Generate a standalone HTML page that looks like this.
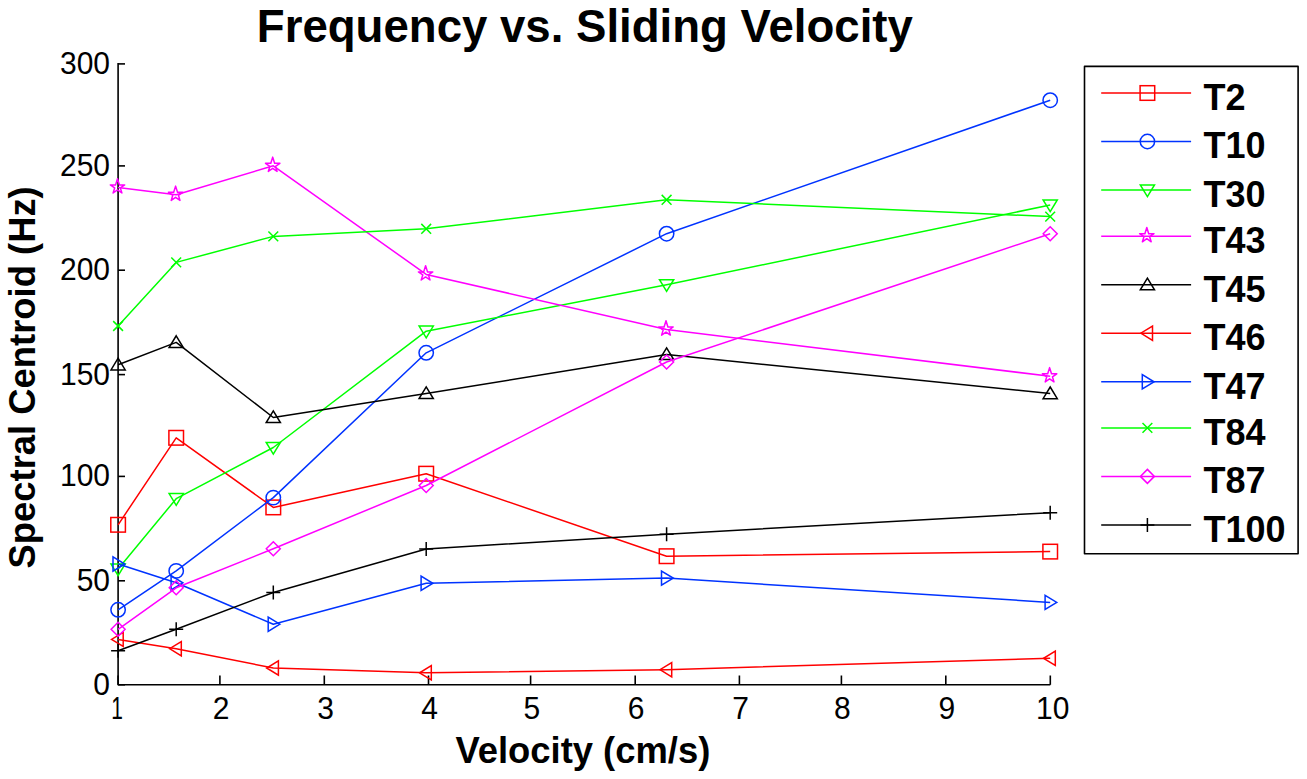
<!DOCTYPE html>
<html><head><meta charset="utf-8"><title>Frequency vs. Sliding Velocity</title>
<style>html,body{margin:0;padding:0;background:#fff;width:1307px;height:779px;overflow:hidden}svg{display:block}text{font-family:"Liberation Sans",sans-serif}</style>
</head><body><div>
<svg width="1307" height="779" viewBox="0 0 1307 779">
<rect width="1307" height="779" fill="#fff"/>
<path d="M118.1 63.1V684.8H1050.3" stroke="#000" stroke-width="1.6" fill="none" stroke-linejoin="round"/>
<path d="M118.1 684.8V675.5" stroke="#000" stroke-width="1.6" fill="none"/>
<path d="M219.9 684.8V675.5" stroke="#000" stroke-width="1.6" fill="none"/>
<path d="M324.3 684.8V675.5" stroke="#000" stroke-width="1.6" fill="none"/>
<path d="M428.5 684.8V675.5" stroke="#000" stroke-width="1.6" fill="none"/>
<path d="M530.6 684.8V675.5" stroke="#000" stroke-width="1.6" fill="none"/>
<path d="M635.2 684.8V675.5" stroke="#000" stroke-width="1.6" fill="none"/>
<path d="M739.4 684.8V675.5" stroke="#000" stroke-width="1.6" fill="none"/>
<path d="M841.4 684.8V675.5" stroke="#000" stroke-width="1.6" fill="none"/>
<path d="M945.8 684.8V675.5" stroke="#000" stroke-width="1.6" fill="none"/>
<path d="M1050.3 684.8V675.5" stroke="#000" stroke-width="1.6" fill="none"/>
<path d="M118.1 684.8H125" stroke="#000" stroke-width="1.6" fill="none"/>
<path d="M118.1 580.8H125" stroke="#000" stroke-width="1.6" fill="none"/>
<path d="M118.1 476.4H125" stroke="#000" stroke-width="1.6" fill="none"/>
<path d="M118.1 374.6H125" stroke="#000" stroke-width="1.6" fill="none"/>
<path d="M118.1 270.2H125" stroke="#000" stroke-width="1.6" fill="none"/>
<path d="M118.1 165.9H125" stroke="#000" stroke-width="1.6" fill="none"/>
<path d="M118.1 63.9H125" stroke="#000" stroke-width="1.6" fill="none"/>
<text transform="translate(117.15 719) scale(0.7 1.05)" text-anchor="middle" font-family="Liberation Sans, sans-serif" font-size="30" fill="#000">1</text>
<text transform="translate(221.1 719) scale(1 1.05)" text-anchor="middle" font-family="Liberation Sans, sans-serif" font-size="30" fill="#000">2</text>
<text transform="translate(325.59 719) scale(1 1.05)" text-anchor="middle" font-family="Liberation Sans, sans-serif" font-size="30" fill="#000">3</text>
<text transform="translate(429.7 719) scale(1 1.05)" text-anchor="middle" font-family="Liberation Sans, sans-serif" font-size="30" fill="#000">4</text>
<text transform="translate(531.73 719) scale(1 1.05)" text-anchor="middle" font-family="Liberation Sans, sans-serif" font-size="30" fill="#000">5</text>
<text transform="translate(636.2 719) scale(1 1.05)" text-anchor="middle" font-family="Liberation Sans, sans-serif" font-size="30" fill="#000">6</text>
<text transform="translate(740.69 719) scale(1 1.05)" text-anchor="middle" font-family="Liberation Sans, sans-serif" font-size="30" fill="#000">7</text>
<text transform="translate(842.4 719) scale(1 1.05)" text-anchor="middle" font-family="Liberation Sans, sans-serif" font-size="30" fill="#000">8</text>
<text transform="translate(946.91 719) scale(1 1.05)" text-anchor="middle" font-family="Liberation Sans, sans-serif" font-size="30" fill="#000">9</text>
<text transform="translate(1052.8 719) scale(1 1.05)" text-anchor="middle" font-family="Liberation Sans, sans-serif" font-size="30" fill="#000">10</text>
<text transform="translate(110 694.8) scale(1 1.05)" text-anchor="end" font-family="Liberation Sans, sans-serif" font-size="30" fill="#000">0</text>
<text transform="translate(110 590.8) scale(1 1.05)" text-anchor="end" font-family="Liberation Sans, sans-serif" font-size="30" fill="#000">50</text>
<text transform="translate(110 486.4) scale(1 1.05)" text-anchor="end" font-family="Liberation Sans, sans-serif" font-size="30" fill="#000">100</text>
<text transform="translate(110 384.6) scale(1 1.05)" text-anchor="end" font-family="Liberation Sans, sans-serif" font-size="30" fill="#000">150</text>
<text transform="translate(110 280.2) scale(1 1.05)" text-anchor="end" font-family="Liberation Sans, sans-serif" font-size="30" fill="#000">200</text>
<text transform="translate(110 175.9) scale(1 1.05)" text-anchor="end" font-family="Liberation Sans, sans-serif" font-size="30" fill="#000">250</text>
<text transform="translate(110 73.9) scale(1 1.05)" text-anchor="end" font-family="Liberation Sans, sans-serif" font-size="30" fill="#000">300</text>
<path d="M118.1 524.8 L176.2 437.8 L273.3 507.4 L426.2 473.7 L666.6 556.2 L1050.2 551.6" fill="none" stroke="#ff0000" stroke-width="1.5" stroke-linejoin="round"/>
<rect x="110.8" y="517.5" width="14.6" height="14.6" fill="none" stroke="#ff0000" stroke-width="1.5"/>
<rect x="168.9" y="430.5" width="14.6" height="14.6" fill="none" stroke="#ff0000" stroke-width="1.5"/>
<rect x="266" y="500.1" width="14.6" height="14.6" fill="none" stroke="#ff0000" stroke-width="1.5"/>
<rect x="418.9" y="466.4" width="14.6" height="14.6" fill="none" stroke="#ff0000" stroke-width="1.5"/>
<rect x="659.3" y="548.9" width="14.6" height="14.6" fill="none" stroke="#ff0000" stroke-width="1.5"/>
<rect x="1042.9" y="544.3" width="14.6" height="14.6" fill="none" stroke="#ff0000" stroke-width="1.5"/>
<path d="M118.1 609.8 L176.2 570.9 L273.3 497.6 L426.2 352.8 L666.6 233.7 L1050.2 100.2" fill="none" stroke="#0033ff" stroke-width="1.5" stroke-linejoin="round"/>
<circle cx="118.1" cy="609.8" r="7.2" fill="none" stroke="#0033ff" stroke-width="1.5"/>
<circle cx="176.2" cy="570.9" r="7.2" fill="none" stroke="#0033ff" stroke-width="1.5"/>
<circle cx="273.3" cy="497.6" r="7.2" fill="none" stroke="#0033ff" stroke-width="1.5"/>
<circle cx="426.2" cy="352.8" r="7.2" fill="none" stroke="#0033ff" stroke-width="1.5"/>
<circle cx="666.6" cy="233.7" r="7.2" fill="none" stroke="#0033ff" stroke-width="1.5"/>
<circle cx="1050.2" cy="100.2" r="7.2" fill="none" stroke="#0033ff" stroke-width="1.5"/>
<path d="M118.1 569 L176.2 498.7 L273.3 447.5 L426.2 331.2 L666.6 284.8 L1050.2 205" fill="none" stroke="#00ff00" stroke-width="1.5" stroke-linejoin="round"/>
<polygon points="118.1,575.6 125.2,563.9 111,563.9" fill="none" stroke="#00ff00" stroke-width="1.5"/>
<polygon points="176.2,505.3 183.3,493.6 169.1,493.6" fill="none" stroke="#00ff00" stroke-width="1.5"/>
<polygon points="273.3,454.1 280.4,442.4 266.2,442.4" fill="none" stroke="#00ff00" stroke-width="1.5"/>
<polygon points="426.2,337.8 433.3,326.1 419.1,326.1" fill="none" stroke="#00ff00" stroke-width="1.5"/>
<polygon points="666.6,291.4 673.7,279.7 659.5,279.7" fill="none" stroke="#00ff00" stroke-width="1.5"/>
<polygon points="1050.2,211.6 1057.3,199.9 1043.1,199.9" fill="none" stroke="#00ff00" stroke-width="1.5"/>
<path d="M118.1 187.4 L176.2 194.8 L273.3 165.8 L426.2 274.4 L666.6 329.5 L1050.2 376.3" fill="none" stroke="#ff00ff" stroke-width="1.5" stroke-linejoin="round"/>
<polygon points="117.5,178.7 119.41,184.9 124.7,184.9 120.34,187.94 121.9,193 117.5,189.93 113.1,193 114.66,187.94 110.3,184.9 115.59,184.9" fill="none" stroke="#ff00ff" stroke-width="1.5" stroke-linejoin="round"/>
<polygon points="175.6,186.1 177.51,192.3 182.8,192.3 178.44,195.34 180,200.4 175.6,197.33 171.2,200.4 172.76,195.34 168.4,192.3 173.69,192.3" fill="none" stroke="#ff00ff" stroke-width="1.5" stroke-linejoin="round"/>
<polygon points="272.7,157.1 274.61,163.3 279.9,163.3 275.54,166.34 277.1,171.4 272.7,168.33 268.3,171.4 269.86,166.34 265.5,163.3 270.79,163.3" fill="none" stroke="#ff00ff" stroke-width="1.5" stroke-linejoin="round"/>
<polygon points="425.6,265.7 427.51,271.9 432.8,271.9 428.44,274.94 430,280 425.6,276.93 421.2,280 422.76,274.94 418.4,271.9 423.69,271.9" fill="none" stroke="#ff00ff" stroke-width="1.5" stroke-linejoin="round"/>
<polygon points="666,320.8 667.91,327 673.2,327 668.84,330.04 670.4,335.1 666,332.03 661.6,335.1 663.16,330.04 658.8,327 664.09,327" fill="none" stroke="#ff00ff" stroke-width="1.5" stroke-linejoin="round"/>
<polygon points="1049.6,367.6 1051.51,373.8 1056.8,373.8 1052.44,376.84 1054,381.9 1049.6,378.83 1045.2,381.9 1046.76,376.84 1042.4,373.8 1047.69,373.8" fill="none" stroke="#ff00ff" stroke-width="1.5" stroke-linejoin="round"/>
<path d="M118.1 364.8 L176.2 342.4 L273.3 417.5 L426.2 393.5 L666.6 354.5 L1050.2 393.6" fill="none" stroke="#000000" stroke-width="1.5" stroke-linejoin="round"/>
<polygon points="118.1,358.2 125.2,369.9 111,369.9" fill="none" stroke="#000000" stroke-width="1.5"/>
<polygon points="176.2,335.8 183.3,347.5 169.1,347.5" fill="none" stroke="#000000" stroke-width="1.5"/>
<polygon points="273.3,410.9 280.4,422.6 266.2,422.6" fill="none" stroke="#000000" stroke-width="1.5"/>
<polygon points="426.2,386.9 433.3,398.6 419.1,398.6" fill="none" stroke="#000000" stroke-width="1.5"/>
<polygon points="666.6,347.9 673.7,359.6 659.5,359.6" fill="none" stroke="#000000" stroke-width="1.5"/>
<polygon points="1050.2,387 1057.3,398.7 1043.1,398.7" fill="none" stroke="#000000" stroke-width="1.5"/>
<path d="M118.1 639.4 L176.2 648.7 L273.3 668 L426.2 672.8 L666.6 669.7 L1050.2 658.3" fill="none" stroke="#ff0000" stroke-width="1.5" stroke-linejoin="round"/>
<polygon points="111.5,639.4 123.2,646.5 123.2,632.3" fill="none" stroke="#ff0000" stroke-width="1.5"/>
<polygon points="169.6,648.7 181.3,655.8 181.3,641.6" fill="none" stroke="#ff0000" stroke-width="1.5"/>
<polygon points="266.7,668 278.4,675.1 278.4,660.9" fill="none" stroke="#ff0000" stroke-width="1.5"/>
<polygon points="419.6,672.8 431.3,679.9 431.3,665.7" fill="none" stroke="#ff0000" stroke-width="1.5"/>
<polygon points="660,669.7 671.7,676.8 671.7,662.6" fill="none" stroke="#ff0000" stroke-width="1.5"/>
<polygon points="1043.6,658.3 1055.3,665.4 1055.3,651.2" fill="none" stroke="#ff0000" stroke-width="1.5"/>
<path d="M118.1 564 L176.2 582.8 L273.3 624.2 L426.2 583.3 L666.6 578.1 L1050.2 602.4" fill="none" stroke="#0033ff" stroke-width="1.5" stroke-linejoin="round"/>
<polygon points="124.7,564 113,571.1 113,556.9" fill="none" stroke="#0033ff" stroke-width="1.5"/>
<polygon points="182.8,582.8 171.1,589.9 171.1,575.7" fill="none" stroke="#0033ff" stroke-width="1.5"/>
<polygon points="279.9,624.2 268.2,631.3 268.2,617.1" fill="none" stroke="#0033ff" stroke-width="1.5"/>
<polygon points="432.8,583.3 421.1,590.4 421.1,576.2" fill="none" stroke="#0033ff" stroke-width="1.5"/>
<polygon points="673.2,578.1 661.5,585.2 661.5,571" fill="none" stroke="#0033ff" stroke-width="1.5"/>
<polygon points="1056.8,602.4 1045.1,609.5 1045.1,595.3" fill="none" stroke="#0033ff" stroke-width="1.5"/>
<path d="M118.1 326 L176.2 262.4 L273.3 236.4 L426.2 228.8 L666.6 199.8 L1050.2 216.6" fill="none" stroke="#00ff00" stroke-width="1.5" stroke-linejoin="round"/>
<path d="M113.2 321.1L123 330.9M113.2 330.9L123 321.1" fill="none" stroke="#00ff00" stroke-width="1.5"/>
<path d="M171.3 257.5L181.1 267.3M171.3 267.3L181.1 257.5" fill="none" stroke="#00ff00" stroke-width="1.5"/>
<path d="M268.4 231.5L278.2 241.3M268.4 241.3L278.2 231.5" fill="none" stroke="#00ff00" stroke-width="1.5"/>
<path d="M421.3 223.9L431.1 233.7M421.3 233.7L431.1 223.9" fill="none" stroke="#00ff00" stroke-width="1.5"/>
<path d="M661.7 194.9L671.5 204.7M661.7 204.7L671.5 194.9" fill="none" stroke="#00ff00" stroke-width="1.5"/>
<path d="M1045.3 211.7L1055.1 221.5M1045.3 221.5L1055.1 211.7" fill="none" stroke="#00ff00" stroke-width="1.5"/>
<path d="M118.1 629.3 L176.2 587.8 L273.3 548.8 L426.2 485.5 L666.6 362 L1050.2 233.8" fill="none" stroke="#ff00ff" stroke-width="1.5" stroke-linejoin="round"/>
<polygon points="118.1,622.3 125.1,629.3 118.1,636.3 111.1,629.3" fill="none" stroke="#ff00ff" stroke-width="1.5"/>
<polygon points="176.2,580.8 183.2,587.8 176.2,594.8 169.2,587.8" fill="none" stroke="#ff00ff" stroke-width="1.5"/>
<polygon points="273.3,541.8 280.3,548.8 273.3,555.8 266.3,548.8" fill="none" stroke="#ff00ff" stroke-width="1.5"/>
<polygon points="426.2,478.5 433.2,485.5 426.2,492.5 419.2,485.5" fill="none" stroke="#ff00ff" stroke-width="1.5"/>
<polygon points="666.6,355 673.6,362 666.6,369 659.6,362" fill="none" stroke="#ff00ff" stroke-width="1.5"/>
<polygon points="1050.2,226.8 1057.2,233.8 1050.2,240.8 1043.2,233.8" fill="none" stroke="#ff00ff" stroke-width="1.5"/>
<path d="M118.1 650.7 L176.2 629.3 L273.3 592.5 L426.2 549 L666.6 534.2 L1050.2 512.7" fill="none" stroke="#000000" stroke-width="1.5" stroke-linejoin="round"/>
<path d="M111.1 650.7L125.1 650.7M118.1 643.7L118.1 657.7" fill="none" stroke="#000000" stroke-width="1.5"/>
<path d="M169.2 629.3L183.2 629.3M176.2 622.3L176.2 636.3" fill="none" stroke="#000000" stroke-width="1.5"/>
<path d="M266.3 592.5L280.3 592.5M273.3 585.5L273.3 599.5" fill="none" stroke="#000000" stroke-width="1.5"/>
<path d="M419.2 549L433.2 549M426.2 542L426.2 556" fill="none" stroke="#000000" stroke-width="1.5"/>
<path d="M659.6 534.2L673.6 534.2M666.6 527.2L666.6 541.2" fill="none" stroke="#000000" stroke-width="1.5"/>
<path d="M1043.2 512.7L1057.2 512.7M1050.2 505.7L1050.2 519.7" fill="none" stroke="#000000" stroke-width="1.5"/>
<rect x="1084.5" y="66.4" width="213.6" height="487.4" fill="#fff" stroke="#000" stroke-width="1.6" stroke-linejoin="round"/>
<path d="M1101.2 93H1191.1" stroke="#ff0000" stroke-width="1.5"/>
<rect x="1140.1" y="85.7" width="14.6" height="14.6" fill="none" stroke="#ff0000" stroke-width="1.5"/>
<text x="1203.5" y="109.8" font-family="Liberation Sans, sans-serif" font-weight="bold" font-size="36" fill="#000">T2</text>
<path d="M1101.2 141.5H1191.1" stroke="#0033ff" stroke-width="1.5"/>
<circle cx="1147.4" cy="141.5" r="7.2" fill="none" stroke="#0033ff" stroke-width="1.5"/>
<text x="1203.5" y="158.3" font-family="Liberation Sans, sans-serif" font-weight="bold" font-size="36" fill="#000">T10</text>
<path d="M1101.2 190H1191.1" stroke="#00ff00" stroke-width="1.5"/>
<polygon points="1147.4,196.6 1154.5,184.9 1140.3,184.9" fill="none" stroke="#00ff00" stroke-width="1.5"/>
<text x="1203.5" y="206.8" font-family="Liberation Sans, sans-serif" font-weight="bold" font-size="36" fill="#000">T30</text>
<path d="M1101.2 236.2H1191.1" stroke="#ff00ff" stroke-width="1.5"/>
<polygon points="1146.8,227.5 1148.71,233.7 1154,233.7 1149.64,236.74 1151.2,241.8 1146.8,238.73 1142.4,241.8 1143.96,236.74 1139.6,233.7 1144.89,233.7" fill="none" stroke="#ff00ff" stroke-width="1.5" stroke-linejoin="round"/>
<text x="1203.5" y="253" font-family="Liberation Sans, sans-serif" font-weight="bold" font-size="36" fill="#000">T43</text>
<path d="M1101.2 284.7H1191.1" stroke="#000000" stroke-width="1.5"/>
<polygon points="1147.4,278.1 1154.5,289.8 1140.3,289.8" fill="none" stroke="#000000" stroke-width="1.5"/>
<text x="1203.5" y="301.5" font-family="Liberation Sans, sans-serif" font-weight="bold" font-size="36" fill="#000">T45</text>
<path d="M1101.2 333.2H1191.1" stroke="#ff0000" stroke-width="1.5"/>
<polygon points="1140.8,333.2 1152.5,340.3 1152.5,326.1" fill="none" stroke="#ff0000" stroke-width="1.5"/>
<text x="1203.5" y="350" font-family="Liberation Sans, sans-serif" font-weight="bold" font-size="36" fill="#000">T46</text>
<path d="M1101.2 381.8H1191.1" stroke="#0033ff" stroke-width="1.5"/>
<polygon points="1154,381.8 1142.3,388.9 1142.3,374.7" fill="none" stroke="#0033ff" stroke-width="1.5"/>
<text x="1203.5" y="398.6" font-family="Liberation Sans, sans-serif" font-weight="bold" font-size="36" fill="#000">T47</text>
<path d="M1101.2 427.9H1191.1" stroke="#00ff00" stroke-width="1.5"/>
<path d="M1142.5 423L1152.3 432.8M1142.5 432.8L1152.3 423" fill="none" stroke="#00ff00" stroke-width="1.5"/>
<text x="1203.5" y="444.7" font-family="Liberation Sans, sans-serif" font-weight="bold" font-size="36" fill="#000">T84</text>
<path d="M1101.2 476.4H1191.1" stroke="#ff00ff" stroke-width="1.5"/>
<polygon points="1147.4,469.4 1154.4,476.4 1147.4,483.4 1140.4,476.4" fill="none" stroke="#ff00ff" stroke-width="1.5"/>
<text x="1203.5" y="493.2" font-family="Liberation Sans, sans-serif" font-weight="bold" font-size="36" fill="#000">T87</text>
<path d="M1101.2 525.1H1191.1" stroke="#000000" stroke-width="1.5"/>
<path d="M1140.4 525.1L1154.4 525.1M1147.4 518.1L1147.4 532.1" fill="none" stroke="#000000" stroke-width="1.5"/>
<text x="1203.5" y="541.9" font-family="Liberation Sans, sans-serif" font-weight="bold" font-size="36" fill="#000">T100</text>
<text transform="translate(256.85 42.2) scale(1 1.03)" font-family="Liberation Sans, sans-serif" font-weight="bold" font-size="45.6" fill="#000">Frequency vs. Sliding Velocity</text>
<text x="455.45" y="763" font-family="Liberation Sans, sans-serif" font-weight="bold" font-size="36.4" fill="#000">Velocity (cm/s)</text>
<text transform="translate(35.3 568.4) rotate(-90)" x="0" y="0" font-family="Liberation Sans, sans-serif" font-weight="bold" font-size="36.4" fill="#000">Spectral Centroid (Hz)</text>
</svg>
</div></body></html>
